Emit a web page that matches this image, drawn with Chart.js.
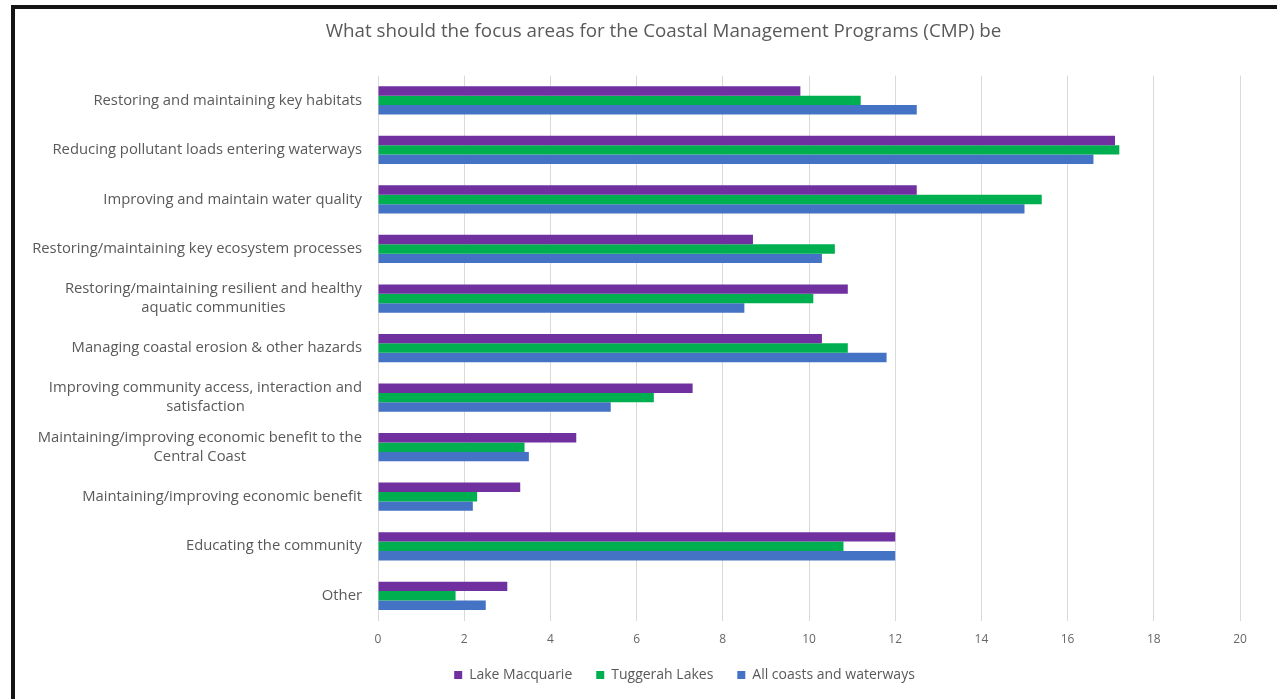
<!DOCTYPE html>
<html>
<head>
<meta charset="utf-8">
<script src="https://cdn.jsdelivr.net/npm/chart.js@4/dist/chart.umd.min.js"></script>
<style>
    html, body { margin: 0; padding: 0; background: #fff; overflow: hidden; }
    #frame {
        position: absolute;
        left: 11px;
        top: 5px;
        width: 1262px;
        height: 690px;
        border-left: 4px solid #141414;
        border-top: 4px solid #141414;
        background: #fff;
    }
    #chart { display: block; }
</style>
</head>
<body>
<div id="frame">
    <canvas id="chart" width="1262" height="690"></canvas>
</div>
<script>
// Survey answers (% of responses) per focus area
const focusAreas = [
    'Restoring and maintaining key habitats',
    'Reducing pollutant loads entering waterways',
    'Improving and maintain water quality',
    'Restoring/maintaining key ecosystem processes',
    ['Restoring/maintaining resilient and healthy', 'aquatic communities'],
    'Managing coastal erosion & other hazards',
    ['Improving community access, interaction and', 'satisfaction'],
    ['Maintaining/improving economic benefit to the', 'Central Coast'],
    'Maintaining/improving economic benefit',
    'Educating the community',
    'Other'
];
const lakeMacquarie = [9.8, 17.1, 12.5, 8.7, 10.9, 10.3, 7.3, 4.6, 3.3, 12.0, 3.0];
const tuggerahLakes = [11.2, 17.2, 15.4, 10.6, 10.1, 10.9, 6.4, 3.4, 2.3, 10.8, 1.8];
const allCoasts = [12.5, 16.6, 15.0, 10.3, 8.5, 11.8, 5.4, 3.5, 2.2, 12.0, 2.5];
const xTicks = [0, 2, 4, 6, 8, 10, 12, 14, 16, 18, 20];

const textGrey = '#595959';
const fontFamily = '"Open Sans", "DejaVu Sans", sans-serif';

// Category labels: right-aligned block, each line centred inside it
const categoryLabels = {
    id: 'categoryLabels',
    afterDraw(chart) {
        const { ctx } = chart;
        const y = chart.scales.y;
        const right = y.right - 16;
        const lineHeight = 19;
        ctx.save();
        ctx.font = '14.8px ' + fontFamily;
        ctx.fillStyle = textGrey;
        ctx.textAlign = 'center';
        ctx.textBaseline = 'middle';
        chart.data.labels.forEach((label, i) => {
            const lines = Array.isArray(label) ? label : [label];
            const w = Math.max(...lines.map(l => ctx.measureText(l).width));
            const cx = right - w / 2;
            const cy = y.getPixelForTick(i);
            lines.forEach((line, j) => {
                ctx.fillText(line, cx, cy + (j - (lines.length - 1) / 2) * lineHeight);
            });
        });
        ctx.restore();
    }
};

// Nudge the title and legend after layout
const shiftBoxes = {
    id: 'shiftBoxes',
    afterLayout(chart) {
        chart.titleBlock.left += 36;
        chart.titleBlock.right += 36;
        chart.legend.left += 57;
        chart.legend.right += 57;
        chart.legend.top -= 15;
        chart.legend.bottom -= 15;
    }
};

new Chart(document.getElementById('chart'), {
    type: 'bar',
    data: {
        labels: focusAreas,
        datasets: [
            { label: 'Lake Macquarie', data: lakeMacquarie, backgroundColor: '#7030a0' },
            { label: 'Tuggerah Lakes', data: tuggerahLakes, backgroundColor: '#00b050' },
            { label: 'All coasts and waterways', data: allCoasts, backgroundColor: '#4472c4' }
        ]
    },
    options: {
        indexAxis: 'y',
        responsive: false,
        animation: false,
        layout: { padding: { left: 0, right: 37, top: 0, bottom: -8 } },
        datasets: {
            bar: { categoryPercentage: 0.57, barPercentage: 1.0 }
        },
        scales: {
            x: {
                min: 0,
                max: 20,
                afterBuildTicks: (scale) => { scale.ticks = xTicks.map(v => ({ value: v })); },
                grid: { color: '#d9d9d9', drawTicks: false },
                border: { display: false },
                ticks: {
                    padding: 12,
                    color: '#666666',
                    font: { family: fontFamily, size: 12 }
                }
            },
            y: {
                grid: { display: false },
                border: { display: false },
                ticks: { display: false },
                afterFit: (scale) => { scale.width = 363; }
            }
        },
        plugins: {
            title: {
                display: true,
                text: 'What should the focus areas for the Coastal Management Programs (CMP) be',
                color: textGrey,
                font: { family: fontFamily, size: 18.8, weight: 'normal' },
                padding: { top: 11, bottom: 33 }
            },
            legend: {
                position: 'bottom',
                labels: {
                    boxWidth: 8,
                    boxHeight: 8,
                    padding: 24,
                    color: textGrey,
                    font: { family: fontFamily, size: 14 }
                }
            },
            tooltip: { enabled: false }
        }
    },
    plugins: [categoryLabels, shiftBoxes]
});
</script>
</body>
</html>
